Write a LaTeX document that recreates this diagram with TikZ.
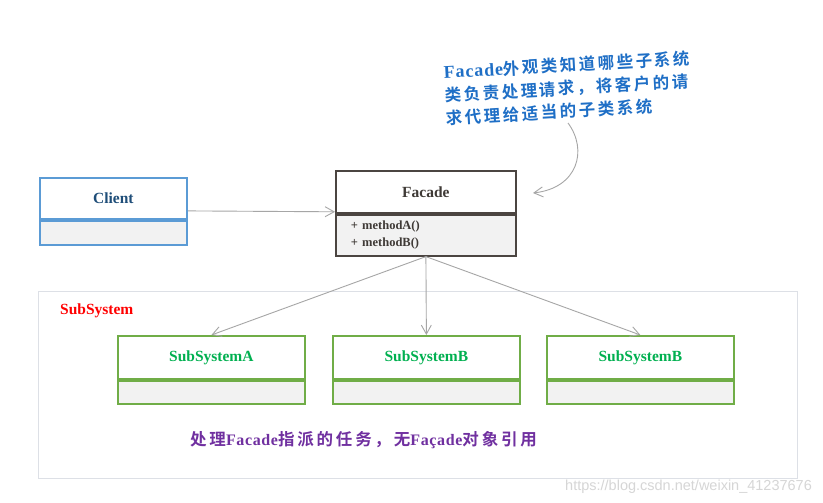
\documentclass[tikz,border=0pt]{standalone}
\usepackage{fontspec}
\setmainfont{Liberation Serif}
\setsansfont{Liberation Sans}
\newfontfamily\cjknote{Noto Sans CJK SC}[BoldFont={Noto Sans CJK SC Bold},LetterSpace=15]
\newfontfamily\latnote{Liberation Serif}[LetterSpace=5]
\newfontfamily\cjkduty{Noto Sans CJK SC}[BoldFont={Noto Sans CJK SC Bold},LetterSpace=17]
\newfontfamily\latduty{Liberation Serif}[LetterSpace=4]
\usetikzlibrary{arrows.meta}
\definecolor{clientblue}{HTML}{5B9BD5}
\definecolor{clienttext}{HTML}{1F4E79}
\definecolor{facadegray}{HTML}{4B4541}
\definecolor{facadetext}{HTML}{3F3A36}
\definecolor{subgreen}{HTML}{70AD47}
\definecolor{subtext}{HTML}{00B050}
\definecolor{arrowgray}{HTML}{A6A6A6}
\definecolor{bodygray}{HTML}{F2F2F2}
\definecolor{noteblue}{HTML}{1F6FC6}
\definecolor{dutypurple}{HTML}{7030A0}
\definecolor{framegray}{HTML}{DDE0E6}
\definecolor{watermark}{HTML}{D6D6D6}
\begin{document}
\begin{tikzpicture}[x=1pt,y=-1pt,
  clshead/.style={shape=rectangle,draw,line width=1.8pt,inner sep=0pt,anchor=north west,font=\bfseries\fontsize{15.5}{18}\selectfont},
  clsbody/.style={shape=rectangle,draw,line width=1.8pt,inner sep=0pt,anchor=north west,fill=bodygray},
  client/.style={draw=clientblue,text=clienttext,minimum width=147pt},
  facade/.style={draw=facadegray,text=facadetext,minimum width=180pt},
  sub/.style={draw=subgreen,text=subtext,minimum width=187pt},
  dep/.style={draw=arrowgray,line width=0.9pt,-{Straight Barb[length=9pt,width=10pt]}}]
\useasboundingbox (0,0) rectangle (823,503);
\fill[white] (0,0) rectangle (823,503);

\node[shape=rectangle,draw=framegray,line width=0.8pt,anchor=north west,minimum width=759pt,minimum height=187pt] (Frame) at (38,291) {};
\node[anchor=base west,text=red,font=\bfseries\fontsize{15.5}{18}\selectfont,inner sep=0pt] (FrameLabel) at (60,314) {SubSystem};

\node[clshead,client,minimum height=41pt] (Client) at (39,177) {Client};
\node[clsbody,client,minimum height=24pt] (ClientBody) at (Client.south west) {};

\node[clshead,facade,minimum height=42pt] (Facade) at (335,170) {Facade};
\node[clsbody,facade,minimum height=41pt,text width=150pt,inner xsep=15pt,align=left,font=\bfseries\fontsize{12.5}{17}\selectfont] (FacadeBody) at (Facade.south west) {+ methodA()\\+ methodB()};

\node[clshead,sub,minimum height=43pt] (SubA) at (117,335) {SubSystemA};
\node[clsbody,sub,minimum height=23pt] (SubABody) at (SubA.south west) {};
\node[clshead,sub,minimum height=43pt] (SubB) at (332,335) {SubSystemB};
\node[clsbody,sub,minimum height=23pt] (SubBBody) at (SubB.south west) {};
\node[clshead,sub,minimum height=43pt] (SubC) at (546,335) {SubSystemB};
\node[clsbody,sub,minimum height=23pt] (SubCBody) at (SubC.south west) {};

\draw[dep] ([yshift=-12.5pt]Client.east) -- ([yshift=2pt]Facade.south west);
\draw[dep] (FacadeBody.south) -- (SubA.north);
\draw[dep] (FacadeBody.south) -- (SubB.north);
\draw[dep] (FacadeBody.south) -- (SubC.north);

\node[anchor=north west,rotate=3.2,align=left,inner sep=0pt,text=noteblue,font=\bfseries\fontsize{16.5}{23}\selectfont] (Note) at (443,64)
  {{\latnote\fontsize{18}{23}\selectfont Facade}{\cjknote 外观类知道哪些子系统}\\{\cjknote 类负责处理请求，将客户的请}\\{\cjknote 求代理给适当的子类系统}};
\coordinate (NoteTail) at (568,123);
\coordinate (NoteTip) at (533,193);
\draw[dep] (NoteTail) .. controls (588,150) and (578,188) .. (NoteTip);

\node[anchor=base west,inner sep=0pt,text=dutypurple,font=\bfseries\fontsize{16.5}{18}\selectfont] (Duty) at (190,445)
  {{\cjkduty 处理}{\latduty\fontsize{16}{18}\selectfont Facade}{\cjkduty 指派的任务，无}{\latduty\fontsize{16}{18}\selectfont Façade}{\cjkduty 对象引用}};

\node[anchor=base west,inner sep=0pt,text=watermark,font=\sffamily\fontsize{14.5}{16}\selectfont] (Mark) at (565,490) {https://blog.csdn.net/weixin\_41237676};
\end{tikzpicture}
\end{document}
